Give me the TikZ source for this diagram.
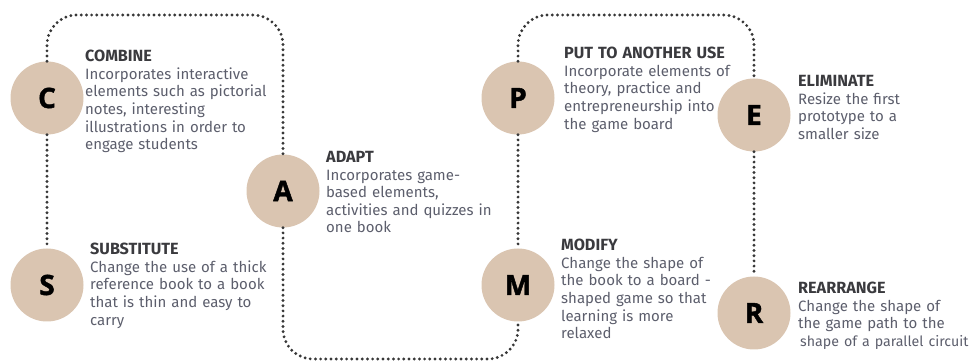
\documentclass[tikz,border=0pt]{standalone}
\usepackage{fontspec}
\setmainfont{Fira Sans}
\newfontfamily\letterfont[BoldFeatures={FakeBold=1.6}]{Open Sans}
\definecolor{beige}{RGB}{218,197,177}
\definecolor{titlegray}{RGB}{58,58,62}
\definecolor{bodygray}{RGB}{92,94,108}
\definecolor{dotgray}{RGB}{55,55,55}
\begin{document}
\begin{tikzpicture}[x=1pt,y=-1pt,
  letter/.style={circle, fill=beige, minimum size=73pt, inner sep=0pt,
    font=\letterfont\bfseries\fontsize{28}{28}\selectfont, text=black},
  desc/.style={anchor=north west, inner sep=0pt, align=left, text width=200pt,
    font=\fontsize{15}{17.6}\selectfont, text=bodygray},
  dotline/.style={draw=dotgray, line width=3.2pt, line cap=round,
    dash pattern=on 0pt off 5.2pt, rounded corners=30pt}]
\useasboundingbox (0,0) rectangle (978,363);
\newcommand{\ttl}[1]{{\color{titlegray}\bfseries\fontsize{16.2}{17.6}\selectfont #1}}

% stage circles
\node[letter] (C) at (47,98) {C};
\node[letter] (S) at (47,285) {S};
\node[letter] (A) at (283,191) {A};
\node[letter] (P) at (518,98) {P};
\node[letter] (M) at (518,285) {M};
\node[letter] (E) at (754,115) {E};
\node[letter] (R) at (754,313) {R};

% levels of the dotted loops
\coordinate (top) at (0,15);
\coordinate (bottom) at (0,359);

% dotted connectors
\draw[dotline] (C.south) -- (S.north);
\draw[dotline] (C.north) -- (C.north |- top) -- (A.north |- top) -- (A.north);
\draw[dotline] (A.south) -- (A.south |- bottom) -- (M.south |- bottom) -- (M.south);
\draw[dotline] (P.south) -- (M.north);
\draw[dotline] (P.north) -- (P.north |- top) -- (E.north |- top) -- (E.north);
\draw[dotline] (E.south) -- (R.north);

% descriptions
\node[desc] (tC) at (85,50) {\ttl{COMBINE}\\Incorporates interactive\\elements such as pictorial\\notes, interesting\\illustrations in order to\\engage students};
\node[desc] (tS) at (90,243) {\ttl{SUBSTITUTE}\\Change the use of a thick\\reference book to a book\\that is thin and easy to\\carry};
\node[desc] (tA) at (326,151) {\ttl{ADAPT}\\Incorporates game-\\based elements,\\activities and quizzes in\\one book};
\node[desc] (tP) at (564,47) {\ttl{PUT TO ANOTHER USE}\\Incorporate elements of\\theory, practice and\\entrepreneurship into\\the game board};
\node[desc] (tE) at (798,75) {\ttl{ELIMINATE}\\Resize the first\\prototype to a\\smaller size};
\node[desc] (tM) at (561,239) {\ttl{MODIFY}\\Change the shape of\\the book to a board -\\shaped game so that\\learning is more\\relaxed};
\node[desc] (tR) at (798,282) {\ttl{REARRANGE}\\Change the shape of\\the game path to the\\{\fontsize{14.2}{17.6}\selectfont\hspace*{2pt}shape of a parallel circuit}};
\end{tikzpicture}
\end{document}
